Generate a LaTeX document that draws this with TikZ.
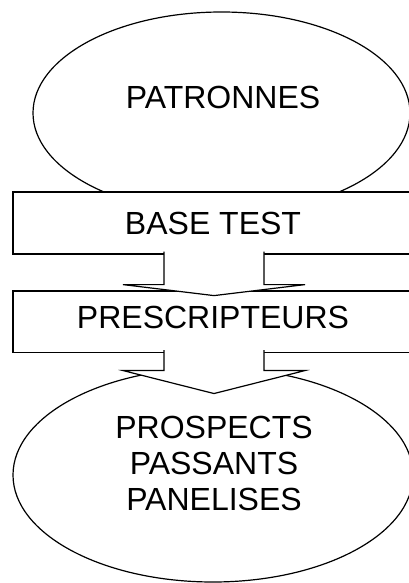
\documentclass[tikz,border=0pt]{standalone}
\usepackage{fontspec}
\setmainfont{Liberation Sans}
\usetikzlibrary{shapes.geometric}
\begin{document}
\begin{tikzpicture}[x=1pt, y=-1pt, line width=1.2pt,
    font=\fontsize{32}{36}\selectfont,
    blob/.style={ellipse, draw, fill=white, inner sep=0pt},
    bar/.style={rectangle, draw, fill=white, inner sep=0pt, minimum width=400pt},
    blockarrow/.style={draw, fill=white, line join=miter}]
  \useasboundingbox (0,0) rectangle (409,583);
  % top group
  \node[blob, minimum width=377pt, minimum height=202pt] (patronnes) at (221.5,113) {};
  \node (patronnestxt) at ([xshift=1.5pt, yshift=16pt]patronnes.center) {PATRONNES};
  \node[bar, minimum height=62pt] (basetest) at (213,223) {BASE TEST};
  \node[bar, minimum height=61.5pt] (prescripteurs) at (213,321.7) {};
  \node (prescripteurstxt) at ([yshift=4pt]prescripteurs.center) {PRESCRIPTEURS};
  % arrow base test -> prescripteurs
  \draw[blockarrow] ([xshift=-49pt, yshift=3pt]basetest.south) -- ++(0,33) -- ++(-41,0)
    -- ++(91,11) -- ++(91,-11) -- ++(-41,0) -- ++(0,-33);
  % bottom group
  \node[blob, minimum width=400pt, minimum height=214pt] (prospects) at (213,475) {};
  \node[align=center] (prospectstxt) at ([xshift=1pt, yshift=12pt]prospects.center)
    {PROSPECTS\\PASSANTS\\PANELISES};
  % arrow prescripteurs -> prospects
  \draw[blockarrow] ([xshift=-49pt, yshift=3pt]prescripteurs.south) -- ++(0,20.5) -- ++(-41,0)
    -- ++(91,23) -- ++(91,-23) -- ++(-41,0) -- ++(0,-20.5);
\end{tikzpicture}
\end{document}
